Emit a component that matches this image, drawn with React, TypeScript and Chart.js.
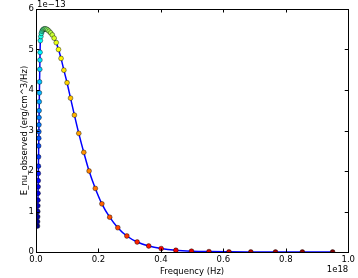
import React, { useEffect, useRef } from "react";
import { Chart, registerables } from "chart.js";

Chart.register(...registerables);

// Frequency in units of 1e18 Hz
const freq = [
  0.0048, 0.0051, 0.0054, 0.0057, 0.006, 0.0063, 0.0066, 0.0069, 0.0072, 0.0075,
  0.0078, 0.0082, 0.0086, 0.0089, 0.0092, 0.0095, 0.0098, 0.0101, 0.0105, 0.0109,
  0.0114, 0.012, 0.0125, 0.013, 0.0139,
  0.0155, 0.0172, 0.0192, 0.0215, 0.0242, 0.0272, 0.0305, 0.0341, 0.0379, 0.0422,
  0.047, 0.0523, 0.0582, 0.0648, 0.0721, 0.0802,
  0.0893, 0.0994, 0.1106, 0.123, 0.137, 0.153, 0.17, 0.19, 0.211, 0.236,
  0.262, 0.291, 0.324, 0.361, 0.401, 0.448, 0.498, 0.554, 0.618, 0.688,
  0.767, 0.853, 0.95,
];

// E_nu observed in units of 1e-13 erg/cm^3/Hz
const flux = [
  0.64, 0.75, 0.87, 1.0, 1.14, 1.28, 1.45, 1.61, 1.76, 1.94,
  2.12, 2.35, 2.62, 2.81, 2.97, 3.14, 3.32, 3.49, 3.71, 3.93,
  4.2, 4.51, 4.74, 4.93, 5.22,
  5.32, 5.4, 5.45, 5.48, 5.5, 5.51, 5.51, 5.5, 5.48, 5.45,
  5.41, 5.36, 5.28, 5.17, 5.0, 4.78,
  4.49, 4.18, 3.8, 3.38, 2.93, 2.46, 2.0, 1.57, 1.19, 0.86,
  0.6, 0.395, 0.247, 0.148, 0.085, 0.043, 0.021, 0.0095, 0.0039, 0.0014,
  0.00045, 0.00012, 0.00003,
];

const xTicks = [0, 0.2, 0.4, 0.6, 0.8, 1.0];
const yTicks = [0, 1, 2, 3, 4, 5, 6];
const xTitle = "Frequency (Hz)";
const yTitle = "E_nu_observed (erg/cm^3/Hz)";
const xOffsetText = "1e18";
const yOffsetText = "1e\u221213";

const FONT = "DejaVu Sans";

function jet(t: number): string {
  const c = (v: number) => Math.max(0, Math.min(1, v));
  const r = c(1.5 - Math.abs(4 * t - 3));
  const g = c(1.5 - Math.abs(4 * t - 2));
  const b = c(1.5 - Math.abs(4 * t - 1));
  return `rgb(${Math.round(r * 255)},${Math.round(g * 255)},${Math.round(b * 255)})`;
}

const framePlugin = {
  id: "mplFrame",
  afterDraw(chart: any) {
    const { ctx, chartArea: a, scales } = chart;
    const xs = scales.x;
    const ys = scales.y;
    ctx.save();
    ctx.strokeStyle = "#000";
    ctx.lineWidth = 1;
    ctx.strokeRect(Math.round(a.left) + 0.5, Math.round(a.top) + 0.5, Math.round(a.right - a.left), Math.round(a.bottom - a.top));
    const tl = 3.5;
    ctx.beginPath();
    xTicks.forEach((v) => {
      const px = Math.round(xs.getPixelForValue(v)) + 0.5;
      ctx.moveTo(px, a.bottom);
      ctx.lineTo(px, a.bottom - tl);
      ctx.moveTo(px, a.top);
      ctx.lineTo(px, a.top + tl);
    });
    yTicks.forEach((v) => {
      const py = Math.round(ys.getPixelForValue(v)) + 0.5;
      ctx.moveTo(a.left, py);
      ctx.lineTo(a.left + tl, py);
      ctx.moveTo(a.right, py);
      ctx.lineTo(a.right - tl, py);
    });
    ctx.stroke();

    ctx.fillStyle = "#000";
    ctx.font = `8.5px "${FONT}"`;
    ctx.textBaseline = "alphabetic";
    ctx.textAlign = "center";
    ctx.fillText(xTitle, (a.left + a.right) / 2, 273.5);
    ctx.textAlign = "right";
    ctx.fillText(xOffsetText, a.right, 271.5);
    ctx.textAlign = "left";
    ctx.fillText(yOffsetText, a.left + 1, 6.8);

    ctx.save();
    ctx.translate(26.5, (a.top + a.bottom) / 2);
    ctx.rotate(-Math.PI / 2);
    ctx.textAlign = "center";
    ctx.fillText(yTitle, 0, 0);
    ctx.restore();
    ctx.restore();
  },
};

export default function App() {
  const ref = useRef<HTMLCanvasElement | null>(null);

  useEffect(() => {
    if (!ref.current) return;
    const pts = freq.map((x, i) => ({ x, y: flux[i] }));
    const colors = freq.map((_, i) => jet(i / (freq.length - 1)));
    const chart = new Chart(ref.current, {
      type: "scatter",
      data: {
        datasets: [
          {
            data: pts,
            showLine: false,
            pointRadius: 2.4,
            pointBackgroundColor: colors,
            pointBorderColor: "rgba(0,0,0,0.85)",
            pointBorderWidth: 0.5,
            order: 0,
          },
          {
            data: pts,
            showLine: true,
            borderColor: "#0000ff",
            borderWidth: 1.5,
            pointRadius: 0,
            cubicInterpolationMode: "monotone",
            order: 1,
          },
        ],
      },
      options: {
        animation: false,
        responsive: false,
        devicePixelRatio: 1,
        layout: { padding: { top: 9, right: 7, left: 0, bottom: 0 } },
        plugins: {
          legend: { display: false },
          tooltip: { enabled: false },
        },
        scales: {
          x: {
            type: "linear",
            min: 0,
            max: 1,
            grid: { display: false, drawTicks: false },
            border: { display: false },
            afterBuildTicks: (s: any) => {
              s.ticks = xTicks.map((v) => ({ value: v }));
            },
            afterFit: (s: any) => {
              s.height = 26;
            },
            ticks: {
              padding: 3,
              color: "#000",
              maxRotation: 0,
              autoSkip: false,
              font: { family: FONT, size: 8.5 },
              callback: (v: any) => Number(v).toFixed(1),
            },
          },
          y: {
            type: "linear",
            min: 0,
            max: 6,
            grid: { display: false, drawTicks: false },
            border: { display: false },
            afterBuildTicks: (s: any) => {
              s.ticks = yTicks.map((v) => ({ value: v }));
            },
            afterFit: (s: any) => {
              s.width = 36;
            },
            ticks: {
              padding: 2,
              color: "#000",
              autoSkip: false,
              font: { family: FONT, size: 8.5 },
              callback: (v: any) => String(v),
            },
          },
        },
      },
      plugins: [framePlugin],
    });
    return () => chart.destroy();
  }, []);

  return (
    <div style={{ position: "fixed", left: 0, top: 0, width: 358, height: 278, background: "#fff" }}>
      <canvas ref={ref} width={358} height={278} style={{ width: 358, height: 278, display: "block" }} />
    </div>
  );
}
